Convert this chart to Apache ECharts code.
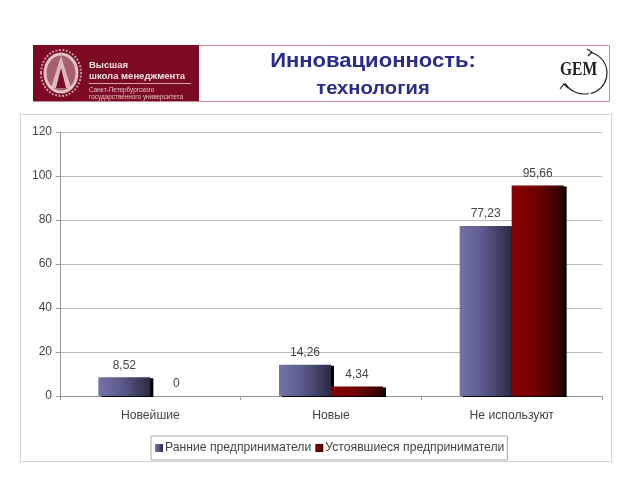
<!DOCTYPE html>
<html><head><meta charset="utf-8">
<style>html,body{margin:0;padding:0;background:#fff}#c{width:640px;height:480px}</style>
<script src="https://cdn.jsdelivr.net/npm/echarts@6/dist/echarts.min.js"></script>
</head><body><div id="c"></div>
<script>
const categories = ['Новейшие', 'Новые', 'Не используют'];
const earlyValues = [8.52, 14.26, 77.23];
const matureValues = [0, 4.34, 95.66];
const seriesNames = ['Ранние предприниматели', 'Устоявшиеся предприниматели'];
const titleLines = ['Инновационность:', 'технология'];
const logoLines = ['Высшая', 'школа менеджмента', 'Санкт-Петербургского', 'государственного университета'];
const font = '"Liberation Sans", Arial, sans-serif';
const grad = (a, b, c) => ({type:'linear',x:0,y:0,x2:1,y2:0,colorStops:[{offset:0,color:a},{offset:.45,color:b},{offset:1,color:c}]});
const label = {show:true,position:'top',distance:6,color:'#444',fontSize:12,fontFamily:font,
  formatter:p=>String(p.value).replace('.',',')};
const barStyle = {shadowColor:'#000',shadowOffsetX:3,shadowOffsetY:1,shadowBlur:0,borderWidth:0};
const chart = echarts.init(document.getElementById('c'),null,{renderer:'canvas'});
chart.setOption({
  animation:false,
  backgroundColor:'#fff',
  grid:{left:60,right:38,top:132,bottom:84,containLabel:false},
  legend:{show:true,left:151,top:436,padding:[6,3,6,4],itemWidth:8,itemHeight:8,itemGap:4,icon:'rect',
    borderColor:'#aaa',borderWidth:1,backgroundColor:'#fff',
    textStyle:{fontSize:12.2,color:'#444',fontFamily:font,padding:[0,0,0,-3]},data:seriesNames},
  xAxis:{type:'category',data:categories,
    axisLine:{lineStyle:{color:'#999'}},axisTick:{show:true,length:4,lineStyle:{color:'#999'}},
    axisLabel:{color:'#444',fontSize:12.2,fontFamily:font,margin:14}},
  yAxis:{type:'value',min:0,max:120,interval:20,
    axisLine:{show:true,lineStyle:{color:'#999'}},axisTick:{show:true,length:4,lineStyle:{color:'#999'}},
    splitLine:{lineStyle:{color:'#b8b8b8'}},
    axisLabel:{color:'#444',fontSize:12,fontFamily:font,margin:8}},
  series:[
    {name:seriesNames[0],type:'bar',data:earlyValues,barWidth:52,barGap:'0%',label,
      itemStyle:{...barStyle,color:grad('#7473a8','#5a5a8c','#2a2a42')}},
    {name:seriesNames[1],type:'bar',data:matureValues,barWidth:52,label,
      itemStyle:{...barStyle,color:grad('#8a0000','#740000','#2c0000')}}
  ],
  graphic:{elements:[
    {type:'rect',z:-1,shape:{x:20.5,y:114.5,width:591,height:347},style:{fill:'#fff',stroke:'#d4d4d4',lineWidth:1}},
    {type:'rect',shape:{x:33.5,y:45.5,width:576,height:56},style:{fill:'#fff',stroke:'#c88a96',lineWidth:1}},
    {type:'rect',shape:{x:33,y:45,width:166,height:56},style:{fill:'#7c0a22'}},
    {type:'ellipse',shape:{cx:61,cy:73,rx:20,ry:23},style:{fill:'none',stroke:'#c89aa0',lineWidth:2,lineDash:[2,1.5]}},
    {type:'ellipse',shape:{cx:61,cy:73,rx:16,ry:19},style:{fill:'#a8606c',stroke:'#e0c4c4',lineWidth:3}},
    {type:'polygon',shape:{points:[[61,56],[71,88],[51,88]]},style:{fill:'#e6d2d2',opacity:.8}},
    {type:'polygon',shape:{points:[[61,68],[66,88],[56,88]]},style:{fill:'#7c0a22'}},
    {type:'text',style:{x:89,y:60,text:logoLines[0],fill:'#f3e4e4',font:'bold 9.5px '+font}},
    {type:'text',style:{x:89,y:71,text:logoLines[1],fill:'#f3e4e4',font:'bold 9.5px '+font}},
    {type:'rect',shape:{x:89,y:83,width:102,height:1},style:{fill:'#d8a8a8'}},
    {type:'text',style:{x:89,y:87,text:logoLines[2],fill:'#e0c0c4',font:'6.4px '+font}},
    {type:'text',style:{x:89,y:94,text:logoLines[3],fill:'#e0c0c4',font:'6.4px '+font}},
    {type:'text',x:373,y:52,scaleX:1.13,style:{text:titleLines[0],fill:'#2b2b8c',align:'center',font:'bold 19.5px '+font}},
    {type:'text',x:373,y:80,scaleX:1.12,style:{text:titleLines[1],fill:'#2b2b8c',align:'center',font:'bold 18px '+font}},
    {type:'text',x:560,y:61,scaleX:0.82,style:{text:'GEM',fill:'#222',font:'bold 19px "Liberation Serif", serif'}},
    {type:'arc',shape:{cx:586,cy:73,r:21,startAngle:-1.35,endAngle:1.35},style:{fill:'none',stroke:'#222',lineWidth:1.2}},
    {type:'arc',shape:{cx:584,cy:72,r:22,startAngle:1.35,endAngle:2.6},style:{fill:'none',stroke:'#222',lineWidth:1.2}},
    {type:'polyline',shape:{points:[[587,49],[592,52],[588,56]]},style:{fill:'none',stroke:'#222',lineWidth:1.2}},
    {type:'polyline',shape:{points:[[560,89],[564,84],[568,88]]},style:{fill:'none',stroke:'#222',lineWidth:1.2}}
  ]}
});
</script></body></html>
